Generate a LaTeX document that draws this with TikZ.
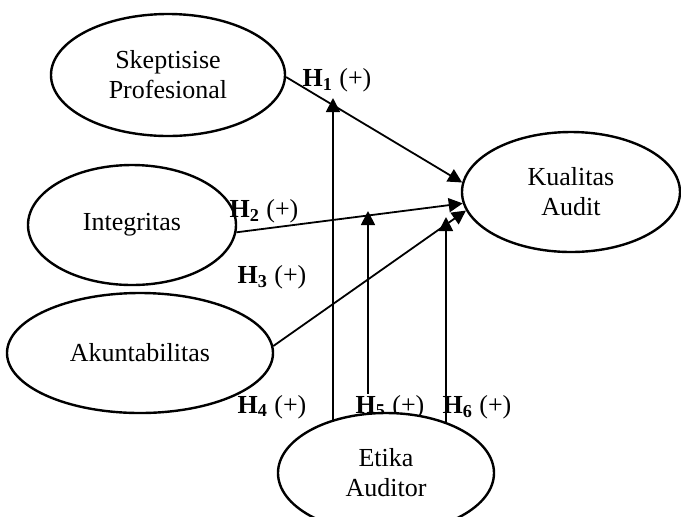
\documentclass[tikz,border=0pt]{standalone}
\usepackage{fontspec}
\setmainfont{Liberation Serif}
\usetikzlibrary{shapes.geometric,arrows.meta,backgrounds}

\begin{document}
\begin{tikzpicture}[x=0.5pt,y=-0.5pt,
        var/.style={draw,ellipse,line width=1.2pt,fill=white,inner sep=0pt,
                minimum height=60pt,align=center,
                font=\fontsize{13}{15}\selectfont},
        arr/.style={line width=0.9pt,-{Triangle[length=7pt,width=7pt]}},
        hyp/.style={inner sep=0.5pt,font=\fontsize{13}{15}\selectfont}]
        \useasboundingbox (0,0) rectangle (681,516);
        \clip (0,0) rectangle (681,516);

        \node[var,minimum width=117pt,minimum height=61pt] (skep) at (168,75) {Skeptisise\\Profesional};
        \node[var,minimum width=104pt] (integ) at (132,225) {Integritas};
        \node[var,minimum width=133pt] (akun) at (140,353) {Akuntabilitas};
        \node[var,minimum width=109pt] (kual) at (571,192) {Kualitas\\Audit};

        \node[hyp] (h1) at (337,80) {\textbf{H\textsubscript{1}} (+)};
        \node[hyp] (h2) at (264,211) {\textbf{H\textsubscript{2}} (+)};
        \node[hyp] (h3) at (272,277) {\textbf{H\textsubscript{3}} (+)};
        \node[hyp] (h4) at (272,407) {\textbf{H\textsubscript{4}} (+)};
        \node[hyp,fill=white] (h5) at (390,407) {\textbf{H\textsubscript{5}} (+)};
        \node[hyp] (h6) at (477,407) {\textbf{H\textsubscript{6}} (+)};

        \node[var,minimum width=108pt] (etika) at (386,473) {Etika\\Auditor};

        \coordinate (m1) at (333,98);
        \coordinate (m2) at (368,211);
        \coordinate (m3) at (446,217);

        \begin{scope}[on background layer]
        \draw[arr] (skep.-1) -- (kual.175);
        \draw[arr] (integ.-4) -- (kual.186);
        \draw[arr] (akun.3) -- (kual.190);
        \draw[arr] (etika.135 -| m1) -- (m1);
        \draw[arr] (etika.107 -| m2) -- (m2);
        \draw[arr] (etika.40 -| m3) -- (m3);
        \end{scope}

\end{tikzpicture}
\end{document}
